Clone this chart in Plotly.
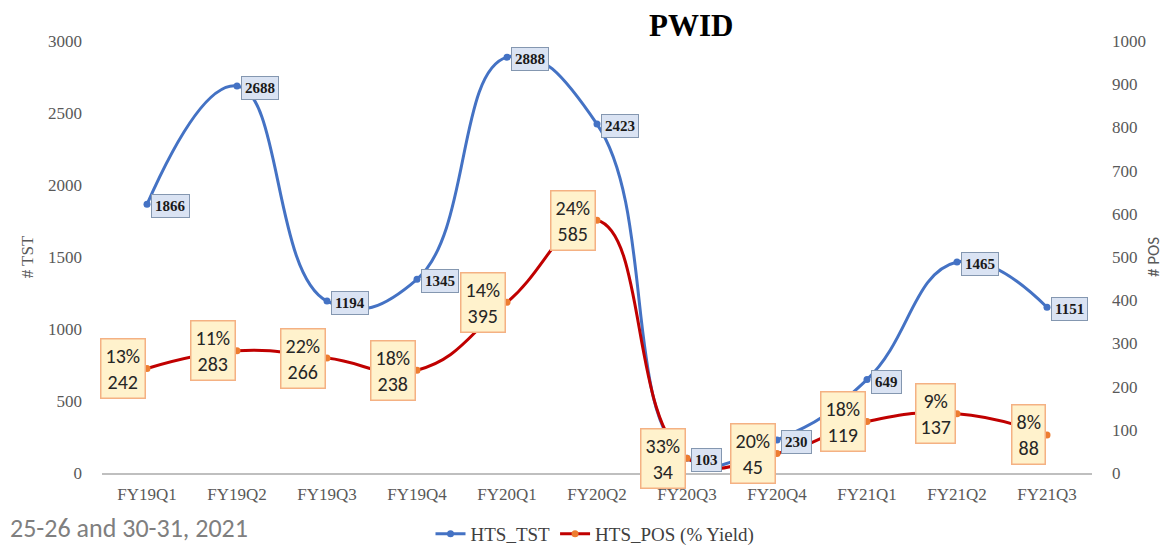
import plotly.graph_objects as go

categories = ["FY19Q1", "FY19Q2", "FY19Q3", "FY19Q4", "FY20Q1", "FY20Q2",
              "FY20Q3", "FY20Q4", "FY21Q1", "FY21Q2", "FY21Q3"]
hts_tst = [1866, 2688, 1194, 1345, 2888, 2423, 103, 230, 649, 1465, 1151]
hts_pos = [242, 283, 266, 238, 395, 585, 34, 45, 119, 137, 88]
yield_pct = [13, 11, 22, 18, 14, 24, 33, 20, 18, 9, 8]

BLUE = "#4472c4"
RED = "#c00000"
ORANGE = "#ed7d31"
GRAY = "#595959"
SERIF = "Liberation Serif"
SANS = "Carlito, Liberation Sans, Open Sans, sans-serif"

# page body has an 8px margin, so the figure is offset by 8px
OFF = 8
W, H = 1168 - OFF, 546 - OFF
L, T = 102 - OFF, 41 - OFF
R = W - (1092 - OFF)
B = H - (473 - OFF)
pw, ph = W - L - R, H - T - B


def px_x(x):  # reference page pixel -> paper
    return (x - OFF - L) / pw


def px_y(y):
    return (473 - y) / ph


fig = go.Figure()
fig.add_trace(go.Scatter(
    x=categories, y=hts_tst, name="HTS_TST", mode="lines+markers",
    line=dict(color=BLUE, width=3, shape="spline", smoothing=1.3),
    marker=dict(color=BLUE, size=7), yaxis="y"))
fig.add_trace(go.Scatter(
    x=categories, y=hts_pos, name="HTS_POS (% Yield)", mode="lines+markers",
    line=dict(color=RED, width=3, shape="spline", smoothing=1.3),
    marker=dict(color=ORANGE, size=7), yaxis="y2"))

annotations = []
for c, v in zip(categories, hts_tst):
    annotations.append(dict(
        x=c, y=v, xref="x", yref="y", text=f"<b>{v}</b>", showarrow=False,
        xanchor="left", yanchor="middle", xshift=4, yshift=-2,
        font=dict(family=SERIF, size=15, color="#1a1a1a"),
        bgcolor="#dae3f3", bordercolor="#8497b0", borderwidth=1, borderpad=3))
for c, v, p in zip(categories, hts_pos, yield_pct):
    annotations.append(dict(
        x=c, y=v, xref="x", yref="y2", text=f"{p}%<br>{v}", showarrow=False,
        xanchor="right", yanchor="middle", xshift=-1,
        font=dict(family=SANS, size=20, color="#262626"),
        bgcolor="#fff2cc", bordercolor="#f4b183", borderwidth=1.5, borderpad=4))

annotations.append(dict(
    x=px_x(691), y=px_y(26), xref="paper", yref="paper", text="<b>PWID</b>",
    showarrow=False, xanchor="center", yanchor="middle",
    font=dict(family=SERIF, size=31, color="black")))
annotations.append(dict(
    x=px_x(8), y=px_y(546), xref="paper", yref="paper", text="25-26 and 30-31, 2021",
    showarrow=False, xanchor="left", yanchor="bottom",
    font=dict(family=SANS, size=26, color="#7f7f7f")))

fig.update_layout(
    width=W, height=H,
    margin=dict(l=L, r=R, t=T, b=B, autoexpand=False),
    paper_bgcolor="white", plot_bgcolor="white",
    showlegend=True,
    legend=dict(orientation="h", x=px_x(595), xanchor="center", y=px_y(534),
                yanchor="middle",
                font=dict(family=SERIF, size=19, color="#404040")),
    annotations=annotations,
    xaxis=dict(type="category", range=[-0.5, 10.5], showgrid=False,
               showline=True, linecolor="#bfbfbf", linewidth=2, ticks="",
               ticklabelstandoff=5,
               tickfont=dict(family=SERIF, size=17, color=GRAY)),
    yaxis=dict(range=[0, 3000], dtick=500, showgrid=False, zeroline=False,
               showline=False, ticklabelstandoff=19,
               tickfont=dict(family=SERIF, size=17, color=GRAY),
               title=dict(text="# TST", font=dict(family=SERIF, size=17, color=GRAY),
                          standoff=10)),
    yaxis2=dict(range=[0, 1000], dtick=100, overlaying="y", side="right",
                showgrid=False, zeroline=False, showline=False,
                ticklabelstandoff=19,
                tickfont=dict(family=SERIF, size=17, color=GRAY),
                title=dict(text="# POS", font=dict(family=SANS, size=17, color=GRAY),
                           standoff=2)),
)

fig.write_html("out.html")
